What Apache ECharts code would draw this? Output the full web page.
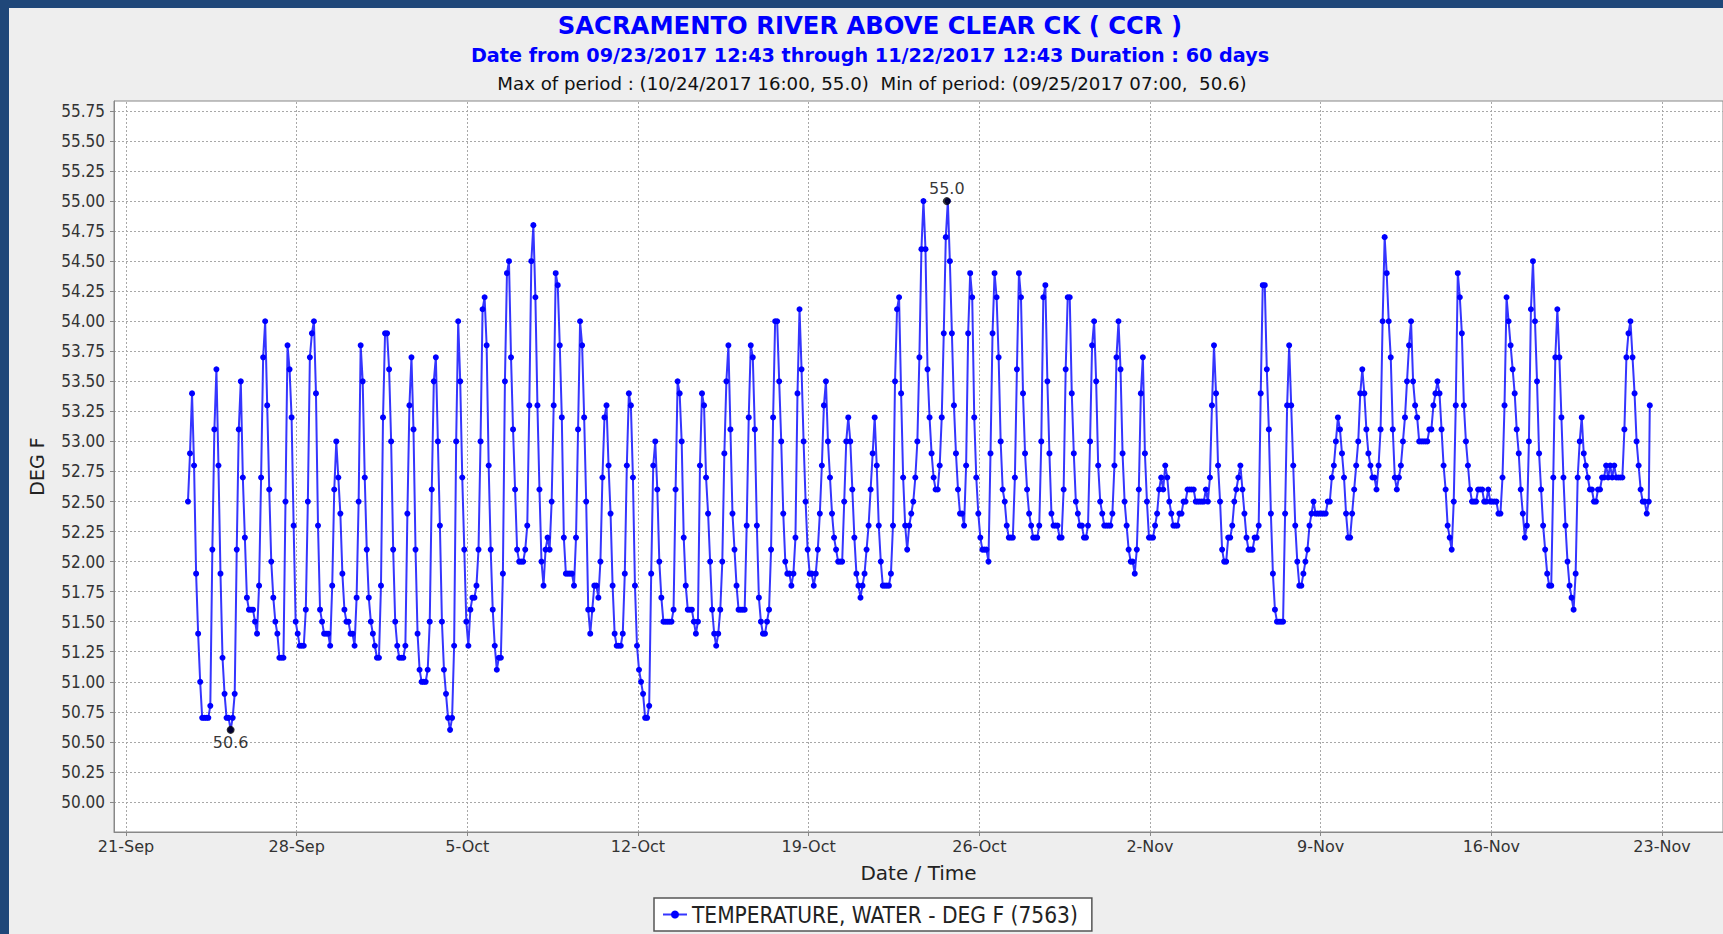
<!DOCTYPE html>
<html>
<head>
<meta charset="utf-8">
<script src="https://cdn.jsdelivr.net/npm/echarts@6/dist/echarts.min.js"></script>
<style>
  html, body { margin: 0; padding: 0; background: #eeeeee; }
  #chart { width: 1723px; height: 934px; }
</style>
</head>
<body>
<div id="chart"></div>
<script>
// ---------------- texts ----------------
const chartTitle = 'SACRAMENTO RIVER ABOVE CLEAR CK ( CCR )';
const subTitle = 'Date from 09/23/2017 12:43 through 11/22/2017 12:43 Duration : 60 days';
const extremesText = 'Max of period : (10/24/2017 16:00, 55.0)  Min of period: (09/25/2017 07:00,  50.6)';
const seriesName = 'TEMPERATURE, WATER - DEG F (7563)';
const yAxisName = 'DEG F';
const xAxisName = 'Date / Time';

// ---------------- data ----------------
// readings every 2 hours, first one 09/23/2017 13:00; each row = one day (13:00 .. 11:00 next day)
const firstReading = [2017, 9, 23, 13];
const stepHours = 2;
const tempsSep23to29 = [
  52.5, 52.9, 53.4, 52.8, 51.9, 51.4, 51.0, 50.7, 50.7, 50.7, 50.7, 50.8,
  52.1, 53.1, 53.6, 52.8, 51.9, 51.2, 50.9, 50.7, 50.7, 50.6, 50.7, 50.9,
  52.1, 53.1, 53.5, 52.7, 52.2, 51.7, 51.6, 51.6, 51.6, 51.5, 51.4, 51.8,
  52.7, 53.7, 54.0, 53.3, 52.6, 52.0, 51.7, 51.5, 51.4, 51.2, 51.2, 51.2,
  52.5, 53.8, 53.6, 53.2, 52.3, 51.5, 51.4, 51.3, 51.3, 51.3, 51.6, 52.5,
  53.7, 53.9, 54.0, 53.4, 52.3, 51.6, 51.5, 51.4, 51.4, 51.4, 51.3, 51.8,
  52.6, 53.0, 52.7, 52.4, 51.9, 51.6, 51.5, 51.5, 51.4, 51.4, 51.3, 51.7
];
const tempsSep30toOct6 = [
  52.5, 53.8, 53.5, 52.7, 52.1, 51.7, 51.5, 51.4, 51.3, 51.2, 51.2, 51.8,
  53.2, 53.9, 53.9, 53.6, 53.0, 52.1, 51.5, 51.3, 51.2, 51.2, 51.2, 51.3,
  52.4, 53.3, 53.7, 53.1, 52.1, 51.4, 51.1, 51.0, 51.0, 51.0, 51.1, 51.5,
  52.6, 53.5, 53.7, 53.0, 52.3, 51.5, 51.1, 50.9, 50.7, 50.6, 50.7, 51.3,
  53.0, 54.0, 53.5, 52.7, 52.1, 51.5, 51.3, 51.6, 51.7, 51.7, 51.8, 52.1,
  53.0, 54.1, 54.2, 53.8, 52.8, 52.1, 51.6, 51.3, 51.1, 51.2, 51.2, 51.9,
  53.5, 54.4, 54.5, 53.7, 53.1, 52.6, 52.1, 52.0, 52.0, 52.0, 52.1, 52.3
];
const tempsOct7to13 = [
  53.3, 54.5, 54.8, 54.2, 53.3, 52.6, 52.0, 51.8, 52.1, 52.2, 52.1, 52.5,
  53.3, 54.4, 54.3, 53.8, 53.2, 52.2, 51.9, 51.9, 51.9, 51.9, 51.8, 52.2,
  53.1, 54.0, 53.8, 53.2, 52.5, 51.6, 51.4, 51.6, 51.8, 51.8, 51.7, 52.0,
  52.7, 53.2, 53.3, 52.8, 52.4, 51.8, 51.4, 51.3, 51.3, 51.3, 51.4, 51.9,
  52.8, 53.4, 53.3, 52.7, 51.8, 51.3, 51.1, 51.0, 50.9, 50.7, 50.7, 50.8,
  51.9, 52.8, 53.0, 52.6, 52.0, 51.7, 51.5, 51.5, 51.5, 51.5, 51.5, 51.6,
  52.6, 53.5, 53.4, 53.0, 52.2, 51.8, 51.6, 51.6, 51.6, 51.5, 51.4, 51.5
];
const tempsOct14to20 = [
  52.8, 53.4, 53.3, 52.7, 52.4, 52.0, 51.6, 51.4, 51.3, 51.4, 51.6, 52.0,
  52.9, 53.5, 53.8, 53.1, 52.4, 52.1, 51.8, 51.6, 51.6, 51.6, 51.6, 52.3,
  53.2, 53.8, 53.7, 53.1, 52.3, 51.7, 51.5, 51.4, 51.4, 51.5, 51.6, 52.1,
  53.2, 54.0, 54.0, 53.5, 53.0, 52.4, 52.0, 51.9, 51.9, 51.8, 51.9, 52.2,
  53.4, 54.1, 53.6, 53.0, 52.5, 52.1, 51.9, 51.9, 51.8, 51.9, 52.1, 52.4,
  52.8, 53.3, 53.5, 53.0, 52.7, 52.4, 52.2, 52.1, 52.0, 52.0, 52.0, 52.5,
  53.0, 53.2, 53.0, 52.6, 52.2, 51.9, 51.8, 51.7, 51.8, 51.9, 52.1, 52.3
];
const tempsOct21to27 = [
  52.6, 52.9, 53.2, 52.8, 52.3, 52.0, 51.8, 51.8, 51.8, 51.8, 51.9, 52.3,
  53.5, 54.1, 54.2, 53.4, 52.7, 52.3, 52.1, 52.3, 52.4, 52.5, 52.7, 53.0,
  53.7, 54.6, 55.0, 54.6, 53.6, 53.2, 52.9, 52.7, 52.6, 52.6, 52.8, 53.2,
  53.9, 54.7, 55.0, 54.5, 53.9, 53.3, 52.9, 52.6, 52.4, 52.4, 52.3, 52.8,
  53.9, 54.4, 54.2, 53.2, 52.7, 52.4, 52.2, 52.1, 52.1, 52.1, 52.0, 52.9,
  53.9, 54.4, 54.2, 53.7, 53.0, 52.6, 52.5, 52.3, 52.2, 52.2, 52.2, 52.7,
  53.6, 54.4, 54.2, 53.4, 52.9, 52.6, 52.4, 52.3, 52.2, 52.2, 52.2, 52.3
];
const tempsOct28toNov3 = [
  53.0, 54.2, 54.3, 53.5, 52.9, 52.4, 52.3, 52.3, 52.3, 52.2, 52.2, 52.6,
  53.6, 54.2, 54.2, 53.4, 52.9, 52.5, 52.4, 52.3, 52.3, 52.2, 52.2, 52.3,
  53.0, 53.8, 54.0, 53.5, 52.8, 52.5, 52.4, 52.3, 52.3, 52.3, 52.3, 52.4,
  52.8, 53.7, 54.0, 53.6, 52.9, 52.5, 52.3, 52.1, 52.0, 52.0, 51.9, 52.1,
  52.6, 53.4, 53.7, 52.9, 52.5, 52.2, 52.2, 52.2, 52.3, 52.4, 52.6, 52.7,
  52.6, 52.8, 52.7, 52.5, 52.4, 52.3, 52.3, 52.3, 52.4, 52.4, 52.5, 52.5,
  52.6, 52.6, 52.6, 52.6, 52.5, 52.5, 52.5, 52.5, 52.5, 52.6, 52.5, 52.7
];
const tempsNov4to10 = [
  53.3, 53.8, 53.4, 52.8, 52.5, 52.1, 52.0, 52.0, 52.2, 52.2, 52.3, 52.5,
  52.6, 52.7, 52.8, 52.6, 52.4, 52.2, 52.1, 52.1, 52.1, 52.2, 52.2, 52.3,
  53.4, 54.3, 54.3, 53.6, 53.1, 52.4, 51.9, 51.6, 51.5, 51.5, 51.5, 51.5,
  52.4, 53.3, 53.8, 53.3, 52.8, 52.3, 52.0, 51.8, 51.8, 51.9, 52.0, 52.1,
  52.3, 52.4, 52.5, 52.4, 52.4, 52.4, 52.4, 52.4, 52.4, 52.5, 52.5, 52.7,
  52.8, 53.0, 53.2, 53.1, 52.9, 52.7, 52.4, 52.2, 52.2, 52.4, 52.6, 52.8,
  53.0, 53.4, 53.6, 53.4, 53.1, 52.9, 52.8, 52.7, 52.7, 52.6, 52.8, 53.1
];
const tempsNov11to17 = [
  54.0, 54.7, 54.4, 54.0, 53.7, 53.1, 52.7, 52.6, 52.7, 52.8, 53.0, 53.2,
  53.5, 53.8, 54.0, 53.5, 53.3, 53.2, 53.0, 53.0, 53.0, 53.0, 53.0, 53.1,
  53.1, 53.3, 53.4, 53.5, 53.4, 53.1, 52.8, 52.6, 52.3, 52.2, 52.1, 52.5,
  53.3, 54.4, 54.2, 53.9, 53.3, 53.0, 52.8, 52.6, 52.5, 52.5, 52.5, 52.6,
  52.6, 52.6, 52.5, 52.5, 52.6, 52.5, 52.5, 52.5, 52.5, 52.4, 52.4, 52.7,
  53.3, 54.2, 54.0, 53.8, 53.6, 53.4, 53.1, 52.9, 52.6, 52.4, 52.2, 52.3,
  53.0, 54.1, 54.5, 54.0, 53.5, 52.9, 52.6, 52.3, 52.1, 51.9, 51.8, 51.8
];
const tempsNov18to21 = [
  52.7, 53.7, 54.1, 53.7, 53.2, 52.7, 52.3, 52.0, 51.8, 51.7, 51.6, 51.9,
  52.7, 53.0, 53.2, 52.9, 52.8, 52.7, 52.6, 52.6, 52.5, 52.5, 52.6, 52.6,
  52.7, 52.7, 52.8, 52.7, 52.8, 52.7, 52.8, 52.7, 52.7, 52.7, 52.7, 53.1,
  53.7, 53.9, 54.0, 53.7, 53.4, 53.0, 52.8, 52.6, 52.5, 52.5, 52.4, 52.5
];
const lastReading = { time: [2017, 11, 22, 12], value: 53.3 };

// extremes annotated on the chart
const maxPoint = { time: [2017, 10, 24, 16], value: 55.0 };
const minPoint = { time: [2017, 9, 25, 7], value: 50.6 };

// axis ticks
const xTickDates = [
  [2017, 9, 21], [2017, 9, 28], [2017, 10, 5], [2017, 10, 12], [2017, 10, 19],
  [2017, 10, 26], [2017, 11, 2], [2017, 11, 9], [2017, 11, 16], [2017, 11, 23]
];
const monthNames = ['Jan','Feb','Mar','Apr','May','Jun','Jul','Aug','Sep','Oct','Nov','Dec'];
const yTicks = [50.00, 50.25, 50.50, 50.75, 51.00, 51.25, 51.50, 51.75, 52.00, 52.25, 52.50, 52.75,
                53.00, 53.25, 53.50, 53.75, 54.00, 54.25, 54.50, 54.75, 55.00, 55.25, 55.50, 55.75];
const xRange = { min: [2017, 9, 20, 12, 11], max: [2017, 11, 25, 12, 4] };
const yRange = { min: 49.75, max: 55.833, step: 0.25 };

// ---------------- build ----------------
const ts = a => Date.UTC(a[0], a[1] - 1, a[2], a[3] || 0, a[4] || 0);
const temps = [].concat(tempsSep23to29, tempsSep30toOct6, tempsOct7to13, tempsOct14to20,
                        tempsOct21to27, tempsOct28toNov3, tempsNov4to10, tempsNov11to17, tempsNov18to21);
const start = ts(firstReading);
const lineData = temps.map((v, i) => [start + i * stepHours * 3600000, v]);
lineData.push([ts(lastReading.time), lastReading.value]);
const xTickValues = xTickDates.map(ts);
const fmtDate = v => { const d = new Date(v); return d.getUTCDate() + '-' + monthNames[d.getUTCMonth()]; };

const gridColor = '#a8a8a8';
const axisColor = '#888888';

const chart = echarts.init(document.getElementById('chart'), null, { renderer: 'svg' });
chart.setOption({
  animation: false,
  backgroundColor: '#eeeeee',
  title: [
    { text: chartTitle, left: 870, top: 13, textAlign: 'center', padding: 0,
      textStyle: { fontFamily: 'DejaVu Sans', fontWeight: 'bold', fontSize: 24.3, color: '#0000ff' } },
    { text: subTitle, left: 870, top: 46, textAlign: 'center', padding: 0,
      textStyle: { fontFamily: 'DejaVu Sans', fontWeight: 'bold', fontSize: 19.2, color: '#0000ff' } },
    { text: extremesText, left: 872, top: 74, textAlign: 'center', padding: 0,
      textStyle: { fontFamily: 'DejaVu Sans', fontWeight: 'normal', fontSize: 18.2, color: '#111' } }
  ],
  legend: {
    data: [seriesName],
    left: 654, top: 898,
    padding: [5, 14, 5, 8],
    itemWidth: 24, itemHeight: 10,
    backgroundColor: '#ffffff',
    borderColor: '#555555', borderWidth: 1.5,
    textStyle: { fontFamily: 'DejaVu Sans Condensed', fontSize: 22.5, color: '#222' },
    selectedMode: false
  },
  grid: {
    left: 114, top: 101, right: 0, bottom: 102,
    show: true, backgroundColor: '#ffffff', borderColor: axisColor, borderWidth: 1
  },
  xAxis: {
    type: 'value',
    min: ts(xRange.min), max: ts(xRange.max),
    axisLine: { show: true, onZero: false, lineStyle: { color: axisColor } },
    axisTick: { show: true, customValues: xTickValues, length: 4, lineStyle: { color: axisColor } },
    axisLabel: { customValues: xTickValues, formatter: v => fmtDate(v), margin: 6,
                 fontFamily: 'DejaVu Sans', fontSize: 16, color: '#333' },
    splitLine: { show: false },
    name: xAxisName, nameLocation: 'middle', nameGap: 31,
    nameTextStyle: { fontFamily: 'DejaVu Sans', fontSize: 20, color: '#222' }
  },
  yAxis: {
    type: 'value',
    min: yRange.min, max: yRange.max, interval: yRange.step,
    axisLine: { show: true, lineStyle: { color: axisColor } },
    axisTick: { show: true, customValues: yTicks, length: 4, lineStyle: { color: axisColor } },
    axisLabel: { customValues: yTicks, formatter: v => v.toFixed(2), margin: 9,
                 fontFamily: 'DejaVu Sans Condensed', fontSize: 17, color: '#333' },
    splitLine: { show: true, lineStyle: { color: gridColor, type: [2, 2], width: 1 } },
    name: yAxisName, nameLocation: 'middle', nameGap: 68, nameRotate: 90,
    nameTextStyle: { fontFamily: 'DejaVu Sans', fontSize: 19, color: '#222' }
  },
  series: [
    {
      name: seriesName, type: 'line', data: lineData,
      symbol: 'circle', symbolSize: 6, showSymbol: true,
      itemStyle: { color: '#0000ff' },
      lineStyle: { color: '#3535ff', width: 2 },
      silent: true, z: 3,
      markLine: {
        silent: true, symbol: ['none', 'none'], z: 1,
        label: { show: false },
        lineStyle: { color: gridColor, type: [2, 2], width: 1 },
        data: xTickValues.map(v => ({ xAxis: v }))
      }
    },
    {
      name: 'extremes', type: 'scatter', silent: true, z: 4,
      symbol: 'circle', symbolSize: 8,
      itemStyle: { color: '#000000' },
      label: { show: true, formatter: p => p.value[1].toFixed(1), distance: 1,
               fontFamily: 'DejaVu Sans', fontSize: 16, color: '#000' },
      data: [
        { value: [ts(maxPoint.time), maxPoint.value], label: { position: 'top' } },
        { value: [ts(minPoint.time), minPoint.value], label: { position: 'bottom' } }
      ]
    }
  ],
  graphic: [
    { type: 'rect', z: 100, shape: { x: 0, y: 0, width: 1723, height: 8 }, style: { fill: '#1f4779' } },
    { type: 'rect', z: 100, shape: { x: 0, y: 0, width: 9, height: 934 }, style: { fill: '#1f4779' } }
  ]
});
</script>
</body>
</html>
